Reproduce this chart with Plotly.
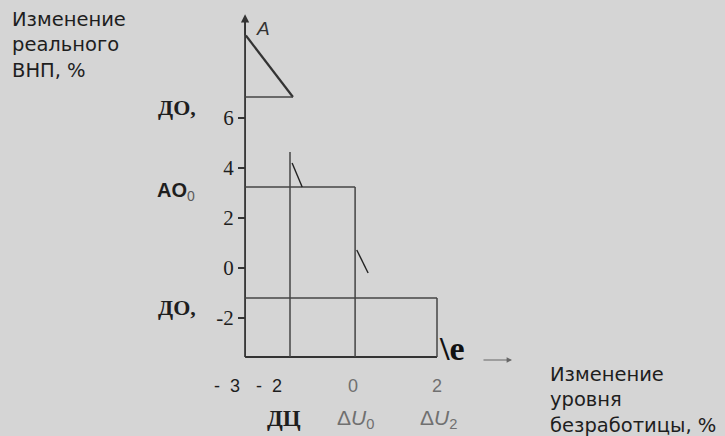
import plotly.graph_objects as go

W, H = 725, 436

# axis ticks
y_ticks = [6, 4, 2, 0, -2]
y_tick_text = ["6", "4", "2", "0", "-2"]
x_ticks = [-3, -2, 0, 2]
x_tick_text = ["-  3", "-  2",
               "<span style='color:#707070'>0</span>",
               "<span style='color:#707070'>2</span>"]

# axes frame
x_origin = -2.57
y_origin = -3.56
y_top = 10.15
x_end = 2.0

# line A (from the vertical axis down to the first level)
a_line_x = [-2.55, -1.43]
a_line_y = [9.3, 6.84]

# horizontal levels and where they stop on the right
level_y = [6.84, 3.24, -1.2]
level_x_end = [-1.43, 0.05, 2.0]

# vertical lines: x position and top end (all run down to the x axis)
vert_x = [-1.5, 0.05, 2.0]
vert_y_top = [4.64, 3.24, -1.2]

# short slanted strokes
slant_x = [[-1.45, -1.21], [0.09, 0.36]]
slant_y = [[4.2, 3.24], [0.72, -0.2]]

LINE = "#444444"
BG = "#d5d5d5"

fig = go.Figure()

def seg(xs, ys, width=1.5, color=LINE):
    fig.add_trace(go.Scatter(x=xs, y=ys, mode="lines",
                             line=dict(color=color, width=width),
                             hoverinfo="skip", showlegend=False))

# axes
seg([x_origin, x_origin], [y_origin, y_top - 0.3], width=1.8, color="#333333")
seg([x_origin, x_end], [y_origin, y_origin], width=1.8, color="#333333")

# line A
seg(a_line_x, a_line_y, width=2.2, color="#333333")

for ly, lx in zip(level_y, level_x_end):
    seg([x_origin, lx], [ly, ly])
for vx, vt in zip(vert_x, vert_y_top):
    seg([vx, vx], [vt, y_origin])
for sx, sy in zip(slant_x, slant_y):
    seg(sx, sy, width=1.4, color="#222222")


def px(x):
    return x / W


def py(y):
    return 1 - y / H


ann = []
# arrowhead on the vertical axis
ann.append(dict(x=x_origin, y=y_top, ax=x_origin, ay=y_top - 0.9,
                xref="x", yref="y", axref="x", ayref="y", text="",
                showarrow=True, arrowhead=2, arrowsize=1.1, arrowwidth=1.5,
                arrowcolor="#333333"))
# stray arrow to the right of the chart
ann.append(dict(x=px(512), y=py(360), ax=-30, ay=0, xref="paper", yref="paper",
                text="", showarrow=True, arrowhead=2, arrowsize=0.9,
                arrowwidth=1.2, arrowcolor="#666666"))

sans = "Liberation Sans, Arial, sans-serif"
wide = "DejaVu Sans, Verdana, sans-serif"
serif = "Liberation Serif, Times New Roman, serif"

def label(text, x, y, font, size, color="#1e1e1e", xanchor="center",
          yanchor="middle", align="center"):
    ann.append(dict(x=px(x), y=py(y), xref="paper", yref="paper", text=text,
                    showarrow=False, xanchor=xanchor, yanchor=yanchor,
                    align=align, font=dict(family=font, size=size, color=color)))

label("Изменение<br>реального<br>ВНП, %", 10, 6, wide, 19.5,
      xanchor="left", yanchor="top", align="left")
label("Изменение<br>уровня<br>безработицы, %", 548, 361, wide, 19.5,
      xanchor="left", yanchor="top", align="left")
label("<i>A</i>", 263, 28, sans, 19, color="#333333")
label("<b>ДО,</b>", 177, 107, serif, 22)
label("<b>AO</b><sub><span style='color:#5a5a5a'>0</span></sub>", 176, 191, sans, 20)
label("<b>ДО,</b>", 177, 307, serif, 22)
label("<b>ДЦ</b>", 284, 418, serif, 23)
label("Δ<i>U</i><sub>0</sub>", 355, 419, sans, 21, color="#707070")
label("Δ<i>U</i><sub>2</sub>", 438, 419, sans, 21, color="#707070")
label("<b>\\e</b>", 452, 348, serif, 34, color="#111111")

fig.update_layout(
    width=W, height=H,
    margin=dict(l=0, r=0, t=0, b=0),
    paper_bgcolor=BG, plot_bgcolor=BG,
    showlegend=False,
    annotations=ann,
    xaxis=dict(range=[-353 / 42, (W - 353) / 42], anchor="free",
               position=(H - 357) / H, showgrid=False, zeroline=False,
               showline=False, tickvals=x_ticks, ticktext=x_tick_text,
               ticks="outside", ticklen=12, tickcolor="rgba(0,0,0,0)",
               tickfont=dict(family=sans, size=18, color="#1e1e1e")),
    yaxis=dict(range=[(268 - H) / 25, 268 / 25], anchor="free",
               position=245 / W, showgrid=False, zeroline=False,
               showline=False, tickvals=y_ticks, ticktext=y_tick_text,
               ticks="outside", ticklen=7, tickwidth=2, tickcolor="#333333",
               tickfont=dict(family=serif, size=21, color="#1e1e1e")),
)

fig.write_html("out.html", config={"displayModeBar": False},
               post_script="document.body.style.margin='0';"
                           "document.body.style.background='%s';" % BG)
